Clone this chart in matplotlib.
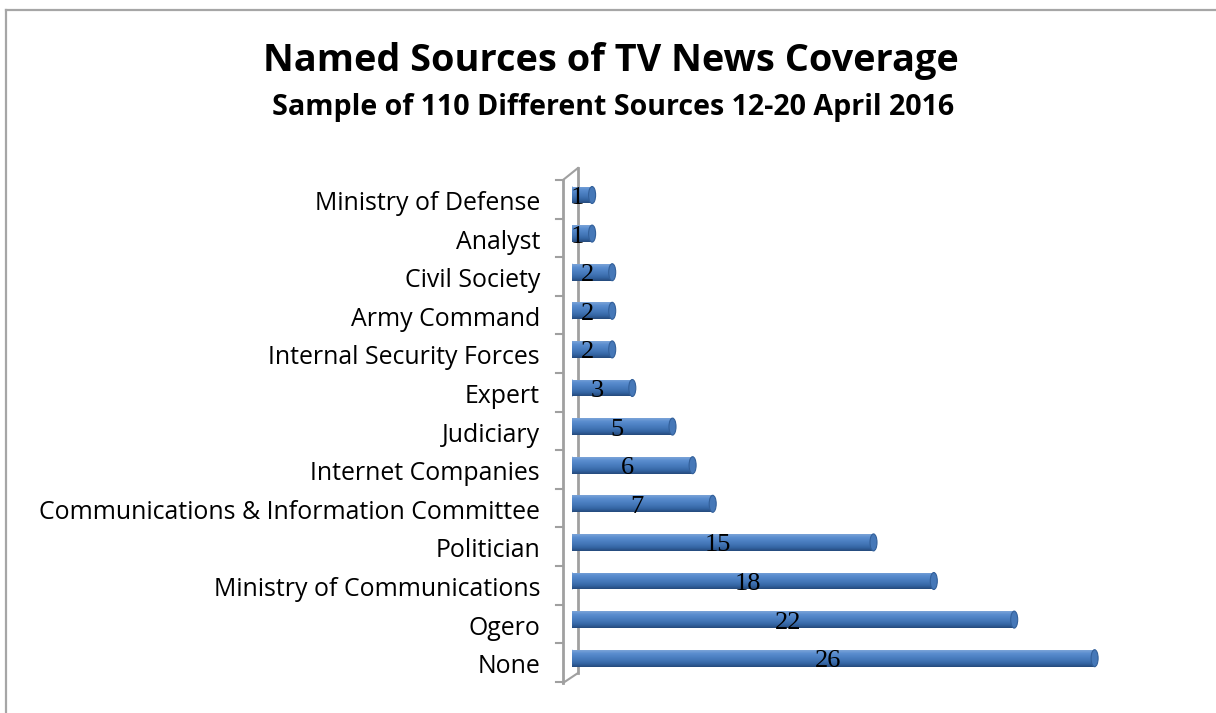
import numpy as np
import matplotlib.pyplot as plt
from matplotlib.lines import Line2D
from matplotlib.patches import Ellipse
from matplotlib.colors import LinearSegmentedColormap

# ---- data (top to bottom) ----
sources = [
    "Ministry of Defense", "Analyst", "Civil Society", "Army Command",
    "Internal Security Forces", "Expert", "Judiciary", "Internet Companies",
    "Communications & Information Committee", "Politician",
    "Ministry of Communications", "Ogero", "None",
]
counts = [1, 1, 2, 2, 2, 3, 5, 6, 7, 15, 18, 22, 26]

title = "Named Sources of TV News Coverage"
subtitle = "Sample of 110 Different Sources 12-20 April 2016"

W, H = 1216, 713
fig = plt.figure(figsize=(W / 100, H / 100), dpi=100)
fig.patch.set_facecolor("white")

# outer chart frame (only top and left edges visible)
fig.add_artist(Line2D([5.5 / W, 5.5 / W], [0, 1 - 9.5 / H], color="#a6a6a6", lw=1.6))
fig.add_artist(Line2D([5.5 / W, 1], [1 - 9.5 / H, 1 - 9.5 / H], color="#a6a6a6", lw=1.6))

# plot area: x zero at 572px, ~20.1px per unit; rows 38.6px apart
px_unit = 20.1
row = 38.6
ax_left, ax_right = 572, 1160
ax_top, ax_bot = 195 - row, 195 + 13 * row
ax = fig.add_axes([ax_left / W, 1 - ax_bot / H, (ax_right - ax_left) / W, (ax_bot - ax_top) / H])
ax.set_xlim(0, (ax_right - ax_left) / px_unit)
ax.set_ylim(13, -1)
ax.axis("off")

def dx(px):
    return px / px_unit

def dy(px):
    return px / row

# 3D wall edges
wall = "#a0a0a0"
fx, bx = dx(563 - 572), dx(578 - 572)
ax.plot([fx, fx], [dy(180 - 195), dy(683 - 195)], color=wall, lw=2, clip_on=False, zorder=1)
ax.plot([bx, bx], [dy(168 - 195), dy(673 - 195)], color=wall, lw=2, clip_on=False, zorder=1)
ax.plot([fx, bx], [dy(180 - 195), dy(168 - 195)], color=wall, lw=1.5, clip_on=False, zorder=1)
ax.plot([fx, bx], [dy(683 - 195), dy(673 - 195)], color=wall, lw=1.5, clip_on=False, zorder=1)
for i in range(len(sources) + 1):
    ty = i + dy(-15)
    ax.plot([dx(556 - 572), fx], [ty, ty], color=wall, lw=1.5, clip_on=False, zorder=1)

# cylinder-like bars
bar_h = 0.44
shade = LinearSegmentedColormap.from_list(
    "cyl", ["#7aa3d8", "#5a8dcf", "#4d81c3", "#4275b6", "#3465a3", "#254a7c"])
grad = np.linspace(0, 1, 64).reshape(-1, 1)
ypos = np.arange(len(sources))
bars = ax.barh(ypos, counts, height=bar_h, color="#4f81bd", edgecolor="none", zorder=2)
for y, v, b in zip(ypos, counts, bars):
    im = ax.imshow(grad, cmap=shade, aspect="auto", zorder=3,
                   extent=(0, v, y + bar_h / 2, y - bar_h / 2), interpolation="bilinear")
    im.set_clip_path(b)
    ax.add_patch(Ellipse((0, y), dx(6), bar_h, facecolor="#4a7cbc", edgecolor="none", zorder=2.5))
    ax.add_patch(Ellipse((v, y), dx(7), bar_h, facecolor="#4678b8",
                         edgecolor="#33609a", lw=0.8, zorder=4))
    ax.text(v / 2 - dx(5), y + 0.08, str(v), ha="center", va="center",
            fontsize=19, family="Liberation Serif", color="black", zorder=5)

# category labels
for y, name in zip(ypos, sources):
    ax.text(dx(540 - 572), y + 0.22, name, ha="right", va="center",
            fontsize=17.9, family="Open Sans", color="black", clip_on=False)

fig.text(611 / W, 1 - 61 / H, title, ha="center", va="center",
         fontsize=27.3, fontweight="bold", family="Open Sans", color="black")
fig.text(613 / W, 1 - 107 / H, subtitle, ha="center", va="center",
         fontsize=20.6, fontweight="bold", family="Open Sans", color="black")

fig.savefig("out.png", dpi=100, facecolor="white")
